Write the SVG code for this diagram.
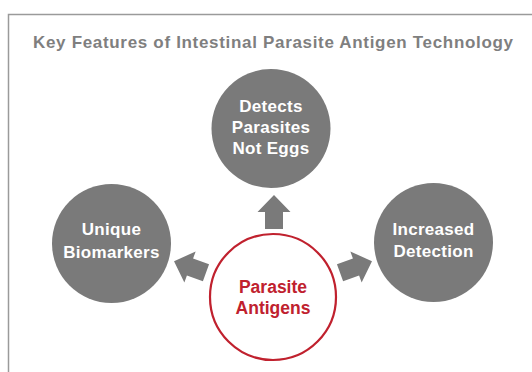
<svg xmlns="http://www.w3.org/2000/svg" width="532" height="372" viewBox="0 0 532 372">
  <style>
    .feat { fill: #7a7a7a; }
    .ftxt { font-family: "Liberation Sans", Arial, sans-serif; font-weight: bold; font-size: 17px; fill: #ffffff; text-anchor: middle; letter-spacing: 0.3px; }
    .rtxt { font-family: "Liberation Sans", Arial, sans-serif; font-weight: bold; font-size: 17.5px; fill: #c0212e; text-anchor: middle; }
    .title { font-family: "Liberation Sans", Arial, sans-serif; font-weight: bold; font-size: 17px; fill: #7f7f7f; text-anchor: middle; }
    .arrow { fill: #7a7a7a; }
  </style>
  <defs>
    <path id="arr" d="M0,-17 L16.5,0 L9,0 L9,17 L-9,17 L-9,0 L-16.5,0 Z"/>
  </defs>
  <rect x="8.5" y="14.5" width="600" height="400" fill="#ffffff" stroke="#9a9a9a" stroke-width="1.5"/>
  <text class="title" x="273" y="48" textLength="480" lengthAdjust="spacing">Key Features of Intestinal Parasite Antigen Technology</text>

  <g id="connectors" class="arrow">
    <use href="#arr" transform="translate(274,212)"/>
    <use href="#arr" transform="translate(190,267) rotate(-70)"/>
    <use href="#arr" transform="translate(356,267) rotate(70)"/>
  </g>

  <g id="detects">
    <circle class="feat" cx="271" cy="128.5" r="59.5"/>
    <text class="ftxt" x="271" y="112">Detects</text>
    <text class="ftxt" x="271" y="133">Parasites</text>
    <text class="ftxt" x="271" y="153.5">Not Eggs</text>
  </g>

  <g id="unique">
    <circle class="feat" cx="111.5" cy="243.5" r="59.5"/>
    <text class="ftxt" x="111.5" y="235">Unique</text>
    <text class="ftxt" x="111.5" y="257.5">Biomarkers</text>
  </g>

  <g id="increased">
    <circle class="feat" cx="433.5" cy="242.5" r="59.5"/>
    <text class="ftxt" x="433.5" y="235">Increased</text>
    <text class="ftxt" x="433.5" y="256.5">Detection</text>
  </g>

  <g id="antigens">
    <circle cx="273" cy="297" r="63" fill="#ffffff" stroke="#c0212e" stroke-width="2.2"/>
    <text class="rtxt" x="273" y="293">Parasite</text>
    <text class="rtxt" x="273" y="314">Antigens</text>
  </g>
</svg>
